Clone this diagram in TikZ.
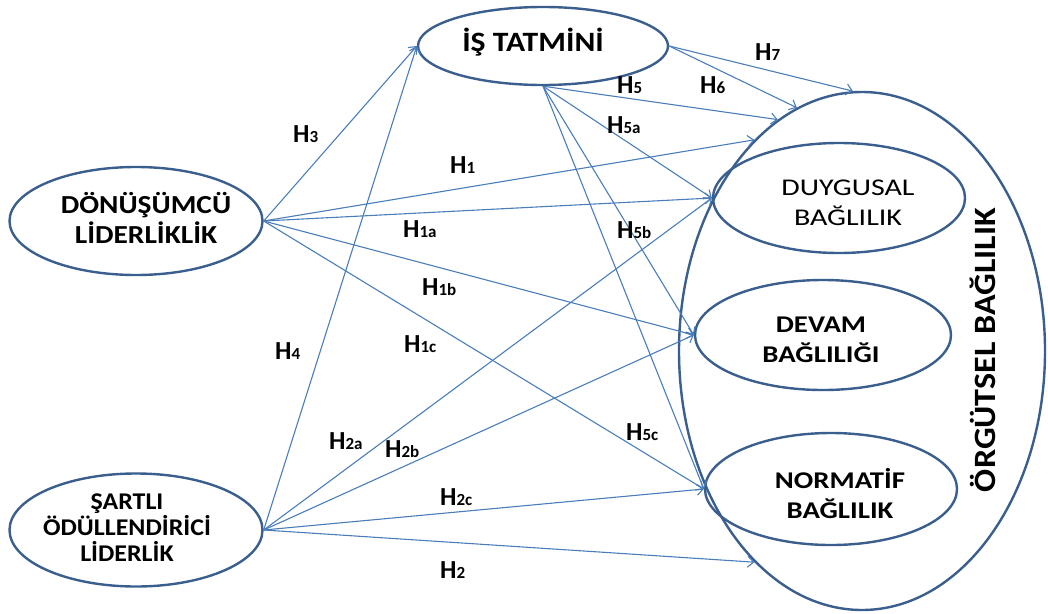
\documentclass[tikz,border=0pt]{standalone}
\usepackage{fontspec}
\setmainfont{Carlito}
\usetikzlibrary{shapes.geometric,arrows.meta}
\definecolor{okmavi}{HTML}{4A7EBB}
\definecolor{kenarmavi}{HTML}{3A5F8E}
\newcommand{\hip}[1]{H{\fontsize{17}{17}\selectfont #1}}

\begin{document}
\begin{tikzpicture}[x=1pt,y=1pt,
    elips/.style={ellipse,draw=kenarmavi,line width=2.4pt,inner sep=0pt},
    metin/.style={align=center,inner sep=0pt,
                  font=\bfseries\fontsize{24}{30}\selectfont\addfontfeatures{FakeStretch=1.2}},
    ok/.style={draw=okmavi,line width=1.1pt,-{Straight Barb[length=6pt,width=11pt]}},
    hlabel/.style={anchor=base west,inner sep=0pt,font=\bfseries\fontsize{26}{26}\selectfont}]
    \useasboundingbox (0,0) rectangle (1048,-613);

        \draw (862,-351) node[elips,minimum width=366pt,minimum height=518pt] (org) {};
        \draw (543,-46)  node[elips,minimum width=250pt,minimum height=78pt] (is) {};
        \draw (136,-221) node[elips,minimum width=253pt,minimum height=108pt] (dn) {};
        \draw (136,-530) node[elips,minimum width=253pt,minimum height=113pt] (sr) {};
        \draw (839,-198) node[elips,minimum width=252pt,minimum height=110pt] (duy) {};
        \draw (823,-335) node[elips,minimum width=256pt,minimum height=110pt] (dev) {};
        \draw (831,-489) node[elips,minimum width=252pt,minimum height=112pt] (nor) {};

        \node[metin,font=\bfseries\fontsize{28}{30}\selectfont\addfontfeatures{FakeStretch=1.13}]
              (ist) at (533,-42) {İŞ TATMİNİ};
        \node[metin,font=\bfseries\fontsize{26}{30}\selectfont\addfontfeatures{FakeStretch=1.13}]
              (dnt) at (146,-218) {DÖNÜŞÜMCÜ\\LİDERLİKLİK};
        \node[metin,font=\bfseries\fontsize{24}{26}\selectfont\addfontfeatures{FakeStretch=1.08}]
              (srt) at (127,-528) {ŞARTLI\\ÖDÜLLENDİRİCİ\\LİDERLİK};
        \node[metin,font=\fontsize{24}{30}\selectfont\addfontfeatures{FakeStretch=1.25}]
              (duyt) at (848,-203) {DUYGUSAL\\BAĞLILIK};
        \node[metin] (devt) at (821,-340) {DEVAM\\BAĞLILIĞI};
        \node[metin] (nort) at (840,-494) {NORMATİF\\BAĞLILIK};
        \node[rotate=90,inner sep=0pt,font=\bfseries\fontsize{31}{31}\selectfont\addfontfeatures{FakeStretch=1.1}]
              (baslik) at (983,-350) {ÖRGÜTSEL BAĞLILIK};

        % donusumcu liderlik
        \draw[ok] (dn.east) -- (is.west);
        \draw[ok] (dn.east) -- (org.117);
        \draw[ok] (dn.east) -- (duy.west);
        \draw[ok] (dn.east) -- (dev.west);
        \draw[ok] (dn.east) -- (nor.west);
        % sartli liderlik
        \draw[ok] (sr.east) -- (is.west);
        \draw[ok] (sr.east) -- (duy.west);
        \draw[ok] (sr.east) -- (dev.west);
        \draw[ok] (sr.east) -- (nor.west);
        \draw[ok] (sr.east) -- (org.243);
        % is tatmini
        \draw[ok] (is.south) -- (org.110);
        \draw[ok] (is.south) -- (duy.west);
        \draw[ok] (is.south) -- (dev.west);
        \draw[ok] (is.south) -- (nor.west);
        \draw[ok] (is.east) -- (org.105);
        \draw[ok] (is.east) -- (org.92);

        \node[hlabel] (h3)  at (293,-142) {\hip{3}};
        \node[hlabel] (h1)  at (450,-173) {\hip{1}};
        \node[hlabel] (h1a) at (403,-237) {\hip{1a}};
        \node[hlabel] (h1b) at (422,-295) {\hip{1b}};
        \node[hlabel] (h1c) at (404,-352) {\hip{1c}};
        \node[hlabel] (h4)  at (275,-359) {\hip{4}};
        \node[hlabel] (h2a) at (329,-449) {\hip{2a}};
        \node[hlabel] (h2b) at (385,-457) {\hip{2b}};
        \node[hlabel] (h2c) at (440,-505) {\hip{2c}};
        \node[hlabel] (h2)  at (440,-578) {\hip{2}};
        \node[hlabel] (h5)  at (617,-93)  {\hip{5}};
        \node[hlabel] (h6)  at (700,-93)  {\hip{6}};
        \node[hlabel] (h7)  at (755,-60)  {\hip{7}};
        \node[hlabel] (h5a) at (607,-133) {\hip{5a}};
        \node[hlabel] (h5b) at (617,-238) {\hip{5b}};
        \node[hlabel] (h5c) at (626,-440) {\hip{5c}};
    \end{tikzpicture}
\end{document}
